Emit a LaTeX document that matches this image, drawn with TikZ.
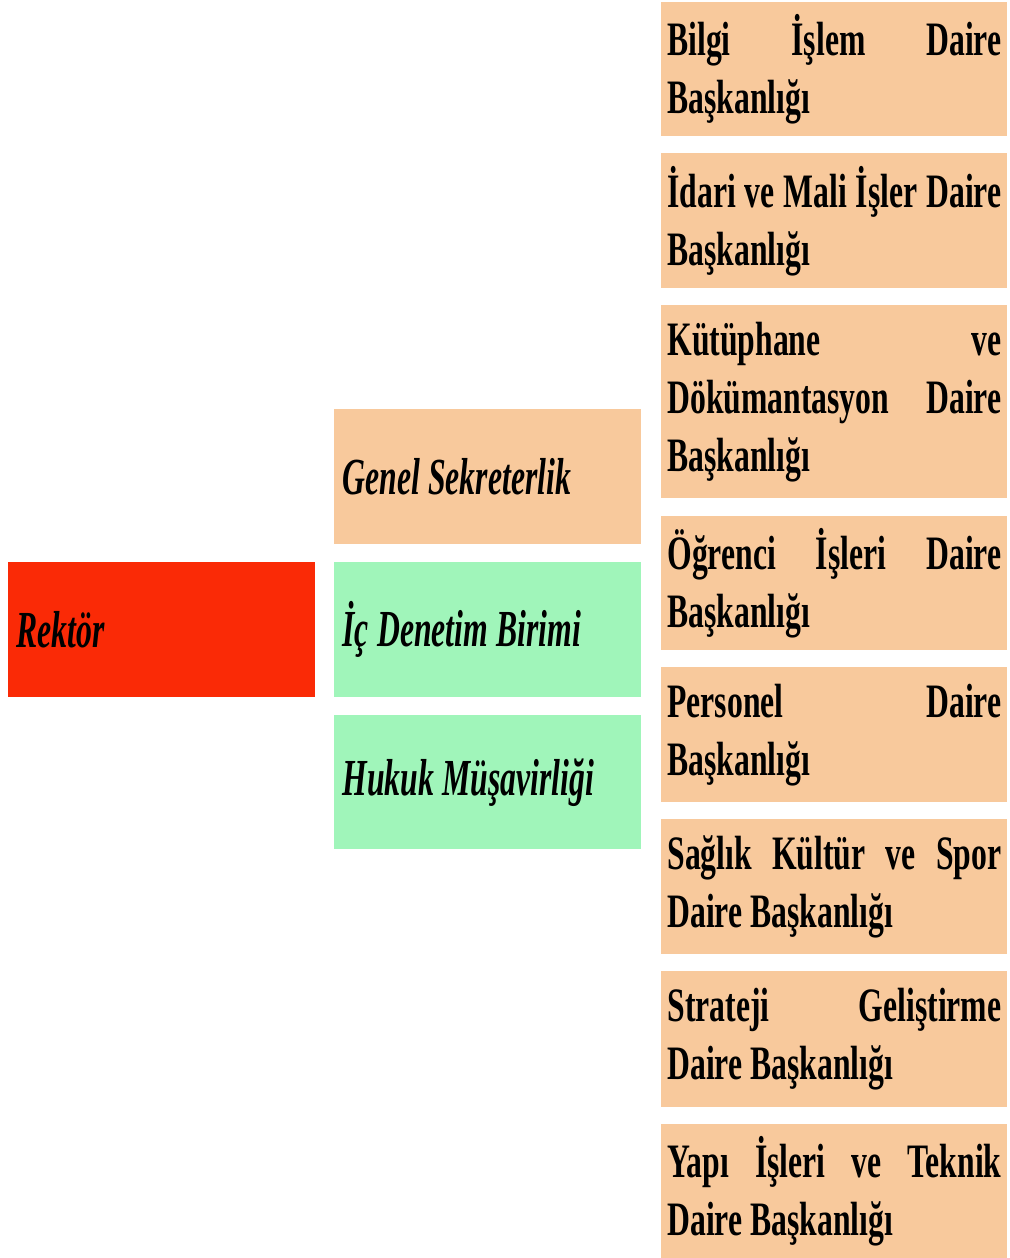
\documentclass[tikz,border=0pt]{standalone}
\usepackage{fontspec}
\newfontfamily\orgfont[FakeStretch=0.66]{Liberation Serif}
\newfontfamily\unitfont[FakeStretch=0.61]{Liberation Serif}
\definecolor{peach}{RGB}{248,201,156}
\definecolor{mint}{RGB}{160,245,186}
\definecolor{rektorred}{RGB}{250,42,6}
\begin{document}
\begin{tikzpicture}[x=0.5pt,y=-0.5pt,
 unit/.style={anchor=north west,inner ysep=0pt,font=\orgfont\bfseries\fontsize{24}{29}\selectfont},
 midbox/.style={unit,minimum width=153.5pt,minimum height=67.5pt,inner xsep=4pt,text width=145.5pt,align=left,
  font=\unitfont\bfseries\itshape\fontsize{26}{31}\selectfont,
  execute at begin node={\spaceskip=0.16em plus 0.05em minus 0.03em\relax}},
 dept/.style={unit,fill=peach,minimum width=173pt,minimum height=67pt,inner xsep=3pt,text width=167pt,align=justify}]
 \useasboundingbox (0,0) rectangle (1010,1258);
 \node[midbox,fill=rektorred] (rektor) at (8,562) {Rektör};
 \node[midbox,fill=peach] (gensek) at (334,409) {Genel Sekreterlik};
 \node[midbox,fill=mint] (icden) at (334,562) {İç Denetim Birimi};
 \node[midbox,fill=mint,minimum height=67pt] (hukuk) at (334,715) {Hukuk Müşavirliği};
 \node[dept] (bidb) at (661,2) {Bilgi İşlem Daire\linebreak Başkanlığı};
 \node[dept,minimum height=67.5pt] (imidb) at (661,153) {İdari ve Mali İşler Daire\linebreak Başkanlığı};
 \node[dept,minimum height=96.5pt] (kddb) at (661,305) {Kütüphane ve\linebreak Dökümantasyon Daire\linebreak Başkanlığı};
 \node[dept] (oidb) at (661,516) {Öğrenci İşleri Daire\linebreak Başkanlığı};
 \node[dept,minimum height=67.5pt] (pdb) at (661,667) {Personel Daire\linebreak Başkanlığı};
 \node[dept,minimum height=67.5pt] (sksdb) at (661,819) {Sağlık Kültür ve Spor\linebreak Daire Başkanlığı};
 \node[dept,minimum height=68pt] (sgdb) at (661,971) {Strateji Geliştirme\linebreak Daire Başkanlığı};
 \node[dept] (ytdb) at (661,1124) {Yapı İşleri ve Teknik\linebreak Daire Başkanlığı};
\end{tikzpicture}
\end{document}
